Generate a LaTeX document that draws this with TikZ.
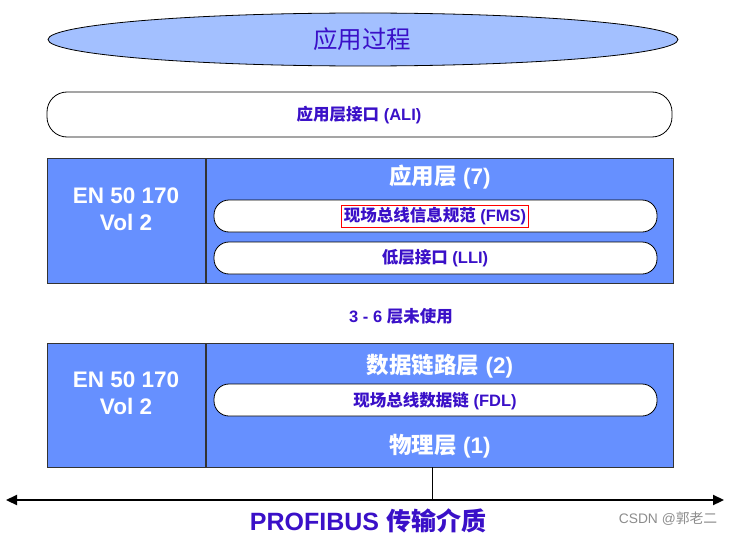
\documentclass[tikz,border=0pt]{standalone}
\usepackage{fontspec}
\setmainfont{Liberation Sans}
\newfontfamily\cjk{Noto Sans CJK SC}
\usetikzlibrary{shapes.geometric,arrows.meta}
\definecolor{txtblue}{HTML}{3A10C8}
\definecolor{boxblue}{HTML}{6690FF}
\definecolor{ellblue}{HTML}{A3C0FF}
\begin{document}
\begin{tikzpicture}[x=1pt,y=-1pt,
  pill/.style={draw=black,fill=white,rounded corners=15pt,line width=0.8pt},
  layerbox/.style={draw=black!80,fill=boxblue,line width=0.8pt},
  bluetxt/.style={text=txtblue,font=\bfseries\fontsize{16.5}{18}\selectfont},
  whitetxt/.style={text=white,font=\bfseries\fontsize{22.5}{27}\selectfont},
  ]
\useasboundingbox (0,0) rectangle (733,535);
% ellipse
\node[draw=black,fill=ellblue,ellipse,minimum width=630pt,minimum height=53pt,inner sep=0pt,line width=0.8pt] (proc) at (363,39.5) {};
\node[text=txtblue,font=\fontsize{24.5}{28}\selectfont] (proct) at (362,39) {\cjk 应用过程};
% ALI
\draw[pill,rounded corners=20pt] (47,92) rectangle (672,137);
\node[bluetxt] (ali) at (359,115) {{\cjk 应用层接口} (ALI)};
% Box 1
\draw[layerbox] (47,158) rectangle (673,283);
\draw[black!80,line width=1.2pt] (206,158) -- (206,283);
\node[whitetxt,align=center] (en1) at (126,209) {EN 50 170\\Vol 2};
\node[whitetxt] (l7) at (440,177) {{\cjk 应用层} (7)};
\draw[pill] (214,200) rectangle (657,232);
\node[bluetxt,draw=red,line width=1pt,inner xsep=2.5pt,inner ysep=2.5pt] (fms) at (435,216.5) {{\cjk 现场总线信息规范} (FMS)};
\draw[pill] (214,242) rectangle (657,274);
\node[bluetxt] (lli) at (435,258) {{\cjk 低层接口} (LLI)};
% unused
\node[bluetxt] (unused) at (401,316) {3 - 6 {\cjk 层未使用}};
% Box 2
\draw[layerbox] (47,343) rectangle (673,467);
\draw[black!80,line width=1.2pt] (206,343) -- (206,467);
\node[whitetxt,align=center] (en2) at (126,393) {EN 50 170\\Vol 2};
\node[whitetxt] (l2) at (440,366) {{\cjk 数据链路层} (2)};
\draw[pill] (214,384) rectangle (657,416);
\node[bluetxt] (fdl) at (435,401) {{\cjk 现场总线数据链} (FDL)};
\node[whitetxt] (l1) at (440,446) {{\cjk 物理层} (1)};
% medium
\coordinate (tap) at (432,467);
\coordinate (tapb) at (432,500);
\coordinate (la) at (6,500);
\coordinate (ra) at (724,500);
\draw[black,line width=0.7pt] (tap) -- (tapb);
\draw[black,line width=2.2pt,{Triangle[length=11pt,width=10pt]}-{Triangle[length=11pt,width=10pt]}] (la) -- (ra);
\node[text=txtblue,font=\bfseries\fontsize{25}{29}\selectfont,inner sep=0pt] (med) at (368,520.5) {PROFIBUS {\cjk 传输介质}};
\node[text=black!45,font=\fontsize{13.8}{15}\selectfont] (csdn) at (668,519) {CSDN @{\cjk 郭老二}};
\end{tikzpicture}
\end{document}
